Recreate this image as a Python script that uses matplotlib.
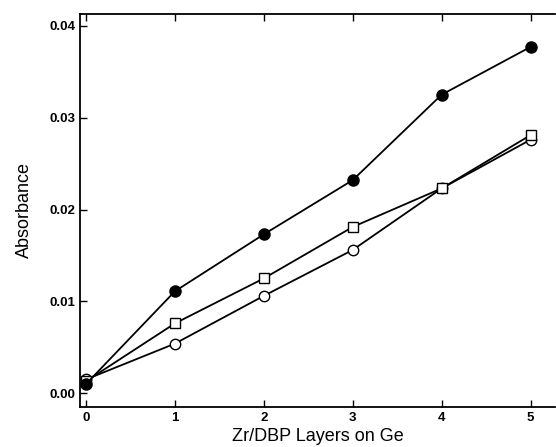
import numpy as np
import matplotlib
matplotlib.use('Agg')
import matplotlib.pyplot as plt

plt.rcParams['font.family'] = ['Liberation Sans', 'DejaVu Sans']

# Data
layers = [0, 1, 2, 3, 4, 5]
filled = [0.0010, 0.0111, 0.0173, 0.0232, 0.0325, 0.0377]
squares = [0.0013, 0.0076, 0.0125, 0.0181, 0.0223, 0.0281]
circles = [0.0015, 0.0054, 0.0106, 0.0156, 0.0223, 0.0276]

yticks = [0.00, 0.01, 0.02, 0.03, 0.04]
ytick_labels = ['0.00', '0.01', '0.02', '0.03', '0.04']

fig = plt.figure(figsize=(5.56, 4.47), dpi=100)
ax = fig.add_axes([0.144, 0.0895, 0.855, 0.8795])

ax.plot(layers, circles, color='black', lw=1.3, marker='o', ms=7.5,
        mfc='white', mec='black', mew=1.0)
ax.plot(layers, squares, color='black', lw=1.3, marker='s', ms=7,
        mfc='white', mec='black', mew=1.0)
ax.plot(layers, filled, color='black', lw=1.3, marker='o', ms=8,
        mfc='black', mec='black')

ax.set_xlim(-0.067, 5.28)
ax.set_ylim(-0.0015, 0.0413)
ax.set_xticks(layers)
ax.set_yticks(yticks)
ax.set_yticklabels(ytick_labels)
ax.tick_params(direction='in', length=5, width=1, labelsize=9.5, top=True)
for lab in ax.get_xticklabels() + ax.get_yticklabels():
    lab.set_fontweight('bold')

for side in ['left', 'bottom', 'top']:
    ax.spines[side].set_linewidth(1.3)
ax.spines['right'].set_visible(False)

ax.set_xlabel('Zr/DBP Layers on Ge', fontsize=13, labelpad=3)
ax.set_ylabel('Absorbance', fontsize=13, labelpad=12)

fig.savefig('out.png', dpi=100)
